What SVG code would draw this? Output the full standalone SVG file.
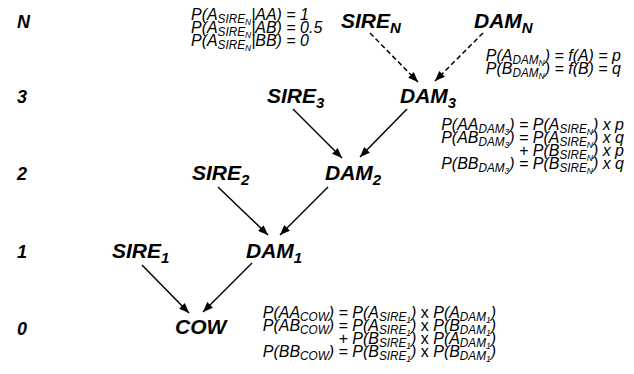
<svg xmlns="http://www.w3.org/2000/svg" width="634" height="374" viewBox="0 0 634 374">
<defs>
<style>
text{font-family:"Liberation Sans",Arial,Helvetica,sans-serif;fill:#000}
.lvl{font-size:18px;font-weight:bold;font-style:italic}
.node{font-size:21px;font-weight:bold;font-style:italic}
.ns{font-size:15px}
.f{font-size:17px;font-style:italic}
.r{text-anchor:end}
.s{font-size:12.5px}
.ss{font-size:9px}
.u{font-style:normal}
.c{stroke:#000;stroke-width:1.5;fill:none;marker-end:url(#ah)}
.d{stroke-dasharray:5,3}
</style>
<marker id="ah" markerUnits="userSpaceOnUse" markerWidth="10" markerHeight="8" refX="10" refY="4" orient="auto">
<path d="M0,0 L10,4 L0,8 z" fill="#000"/>
</marker>
</defs>
<rect width="634" height="374" fill="#fff"/>
<g id="levels">
<text class="lvl" x="17" y="28">N</text>
<text class="lvl" x="17" y="103">3</text>
<text class="lvl" x="17" y="180">2</text>
<text class="lvl" x="17" y="258">1</text>
<text class="lvl" x="17" y="335">0</text>
</g>
<g id="connectors">
<line class="c d" x1="370" y1="33" x2="418" y2="82"/>
<line class="c d" x1="483" y1="33" x2="435" y2="81"/>
<line class="c" x1="293" y1="109" x2="342" y2="158"/>
<line class="c" x1="407" y1="109" x2="360" y2="157"/>
<line class="c" x1="218" y1="187" x2="268" y2="235"/>
<line class="c" x1="328" y1="187" x2="280" y2="235"/>
<line class="c" x1="142" y1="265" x2="189" y2="313"/>
<line class="c" x1="252" y1="263" x2="203" y2="312"/>
</g>
<g id="sireN"><text class="node" x="341" y="28">SIRE<tspan class="ns" dy="5">N</tspan></text></g>
<g id="damN"><text class="node" x="474" y="28">DAM<tspan class="ns" dy="5">N</tspan></text></g>
<g id="dam3"><text class="node" x="400" y="103">DAM<tspan class="ns" dy="5">3</tspan></text></g>
<g id="sire3"><text class="node" x="267" y="103">SIRE<tspan class="ns" dy="5">3</tspan></text></g>
<g id="dam2"><text class="node" x="325" y="180">DAM<tspan class="ns" dy="5">2</tspan></text></g>
<g id="sire2"><text class="node" x="192" y="180">SIRE<tspan class="ns" dy="5">2</tspan></text></g>
<g id="dam1"><text class="node" x="246" y="258">DAM<tspan class="ns" dy="5">1</tspan></text></g>
<g id="sire1"><text class="node" x="112" y="258">SIRE<tspan class="ns" dy="5">1</tspan></text></g>
<g id="cow"><text class="node" x="175" y="334">COW</text></g>
<g id="formula-sireN" transform="translate(191,0) scale(0.94,1)">
<text class="f" x="0" y="20">P(A<tspan class="s" dy="3">SIRE</tspan><tspan class="ss" dy="2">N</tspan><tspan dy="-5">|AA) = 1</tspan></text>
<text class="f" x="0" y="33">P(A<tspan class="s" dy="3">SIRE</tspan><tspan class="ss" dy="2">N</tspan><tspan dy="-5">|AB) = 0.5</tspan></text>
<text class="f" x="0" y="46">P(A<tspan class="s" dy="3">SIRE</tspan><tspan class="ss" dy="2">N</tspan><tspan dy="-5">|BB) = 0</tspan></text>
</g>
<g id="formula-damN" transform="translate(621,0) scale(0.94,1)">
<text class="f r" x="0" y="61">P(A<tspan class="s" dy="3">DAM</tspan><tspan class="ss" dy="2">N</tspan><tspan dy="-5">) = f(A) = p</tspan></text>
<text class="f r" x="0" y="74">P(B<tspan class="s" dy="3">DAM</tspan><tspan class="ss" dy="2">N</tspan><tspan dy="-5">) = f(B) = q</tspan></text>
</g>
<g id="formula-dam3" transform="translate(624,0) scale(0.94,1)">
<text class="f r" x="0" y="130">P(AA<tspan class="s" dy="3">DAM</tspan><tspan class="ss" dy="2">3</tspan><tspan dy="-5">) = P(A</tspan><tspan class="s" dy="3">SIRE</tspan><tspan class="ss" dy="2">N</tspan><tspan dy="-5">) x p</tspan></text>
<text class="f r" x="0" y="143">P(AB<tspan class="s" dy="3">DAM</tspan><tspan class="ss" dy="2">3</tspan><tspan dy="-5">) = P(A</tspan><tspan class="s" dy="3">SIRE</tspan><tspan class="ss" dy="2">N</tspan><tspan dy="-5">) x q</tspan></text>
<text class="f r" x="0" y="156">+ P(B<tspan class="s" dy="3">SIRE</tspan><tspan class="ss" dy="2">N</tspan><tspan dy="-5">) x p</tspan></text>
<text class="f r" x="0" y="169">P(BB<tspan class="s" dy="3">DAM</tspan><tspan class="ss" dy="2">3</tspan><tspan dy="-5">) = P(B</tspan><tspan class="s" dy="3">SIRE</tspan><tspan class="ss" dy="2">N</tspan><tspan dy="-5">) x q</tspan></text>
</g>
<g id="formula-cow" transform="translate(496,0) scale(0.94,1)">
<text class="f r" x="0" y="318">P(AA<tspan class="s" dy="3">COW</tspan><tspan dy="-3">) = P(A</tspan><tspan class="s" dy="3">SIRE</tspan><tspan class="ss" dy="2">1</tspan><tspan dy="-5">) <tspan class="u">x</tspan> P(A</tspan><tspan class="s" dy="3">DAM</tspan><tspan class="ss" dy="2">1</tspan><tspan dy="-5">)</tspan></text>
<text class="f r" x="0" y="331">P(AB<tspan class="s" dy="3">COW</tspan><tspan dy="-3">) = P(A</tspan><tspan class="s" dy="3">SIRE</tspan><tspan class="ss" dy="2">1</tspan><tspan dy="-5">) <tspan class="u">x</tspan> P(B</tspan><tspan class="s" dy="3">DAM</tspan><tspan class="ss" dy="2">1</tspan><tspan dy="-5">)</tspan></text>
<text class="f r" x="0" y="344">+ P(B<tspan class="s" dy="3">SIRE</tspan><tspan class="ss" dy="2">1</tspan><tspan dy="-5">) <tspan class="u">x</tspan> P(A</tspan><tspan class="s" dy="3">DAM</tspan><tspan class="ss" dy="2">1</tspan><tspan dy="-5">)</tspan></text>
<text class="f r" x="0" y="357">P(BB<tspan class="s" dy="3">COW</tspan><tspan dy="-3">) = P(B</tspan><tspan class="s" dy="3">SIRE</tspan><tspan class="ss" dy="2">1</tspan><tspan dy="-5">) <tspan class="u">x</tspan> P(B</tspan><tspan class="s" dy="3">DAM</tspan><tspan class="ss" dy="2">1</tspan><tspan dy="-5">)</tspan></text>
</g>
</svg>
